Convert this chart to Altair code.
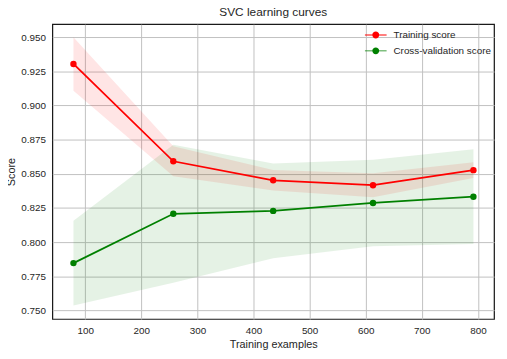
import altair as alt
import pandas as pd

train_sizes = [79, 257, 435, 613, 792]
train_mean = [0.9303, 0.8591, 0.8452, 0.8416, 0.8526]
train_std = [0.0195, 0.0110, 0.0075, 0.0088, 0.0058]
cv_mean = [0.7846, 0.8207, 0.8228, 0.8286, 0.8332]
cv_std = [0.0310, 0.0505, 0.0346, 0.0316, 0.0347]

series_names = ["Training score", "Cross-validation score"]
series_colors = ["#ff0000", "#008000"]

rows = []
for name, means, stds in [(series_names[0], train_mean, train_std),
                          (series_names[1], cv_mean, cv_std)]:
    for x, m, s in zip(train_sizes, means, stds):
        rows.append({"series": name, "x": x, "mean": m, "lo": m - s, "hi": m + s})
df = pd.DataFrame(rows)

FONT = "Liberation Sans"
TXT = "#262626"

xs = alt.Scale(domain=[41.4, 828.8], nice=False, zero=False)
ys = alt.Scale(domain=[0.7437, 0.9594], nice=False, zero=False)
cscale = alt.Scale(domain=series_names, range=series_colors)
# same mapping, listed in reverse so these scales are not merged with the legend's
cscale_rev = alt.Scale(domain=series_names[::-1], range=series_colors[::-1])

x_axis = alt.Axis(values=[100, 200, 300, 400, 500, 600, 700, 800],
                  format="d", labelPadding=7, titlePadding=3, labelOverlap=False)
y_axis = alt.Axis(values=[0.75, 0.775, 0.8, 0.825, 0.85, 0.875, 0.9, 0.925, 0.95],
                  format=".3f", labelPadding=7, titlePadding=4, labelOverlap=False)

x_enc = alt.X("x:Q", scale=xs, title="Training examples", axis=x_axis)
y_enc = alt.Y("mean:Q", scale=ys, title="Score", axis=y_axis)

# legend glyph: short line (thin filled bar) with a dot in the middle
sym_path = ("M-2.2,-0.09H2.2V0.09H-2.2Z"
            "M-0.7,0A0.7,0.7,0,1,1,0.7,0A0.7,0.7,0,1,1,-0.7,0Z")
legend = alt.Legend(
    title=None, orient="none", legendX=323, legendY=6, padding=0,
    symbolType=sym_path, symbolSize=100, symbolStrokeWidth=0,
    symbolOpacity=1,
    labelOffset=13, rowPadding=6, labelFont=FONT, labelFontSize=10,
    labelColor=TXT, labelLimit=200,
)

base = alt.Chart(df)

bands = base.mark_area(opacity=0.1).encode(
    x=x_enc,
    y=alt.Y("lo:Q", scale=ys, title="Score", axis=y_axis),
    y2="hi:Q",
    fill=alt.Fill("series:N", scale=cscale_rev, legend=None),
)

lines = base.mark_line(strokeWidth=1.8).encode(
    x=x_enc, y=y_enc,
    stroke=alt.Stroke("series:N", scale=cscale_rev, legend=None),
)

points = base.mark_point(filled=True, size=42, opacity=1).encode(
    x=x_enc, y=y_enc,
    color=alt.Color("series:N", scale=cscale, legend=legend),
)

chart = alt.layer(bands, lines, points).properties(
    width=448, height=299,
    title=alt.Title("SVC learning curves", font=FONT, fontSize=12,
                    fontWeight="normal", color=TXT, offset=5),
    autosize=alt.AutoSizeParams(type="none"),
    padding={"left": 45, "top": 14, "right": 5, "bottom": 30},
).configure_view(
    stroke="#1a1a1a", strokeWidth=1.25
).configure_axis(
    grid=True, gridColor="#c0c0c0", gridWidth=1, domain=False,
    ticks=False, tickSize=0,
    labelFont=FONT, labelFontSize=10, labelColor=TXT,
    titleFont=FONT, titleFontSize=11, titleFontWeight="normal", titleColor=TXT,
)

chart.save("out.html", embed_options={"renderer": "svg", "actions": False})
